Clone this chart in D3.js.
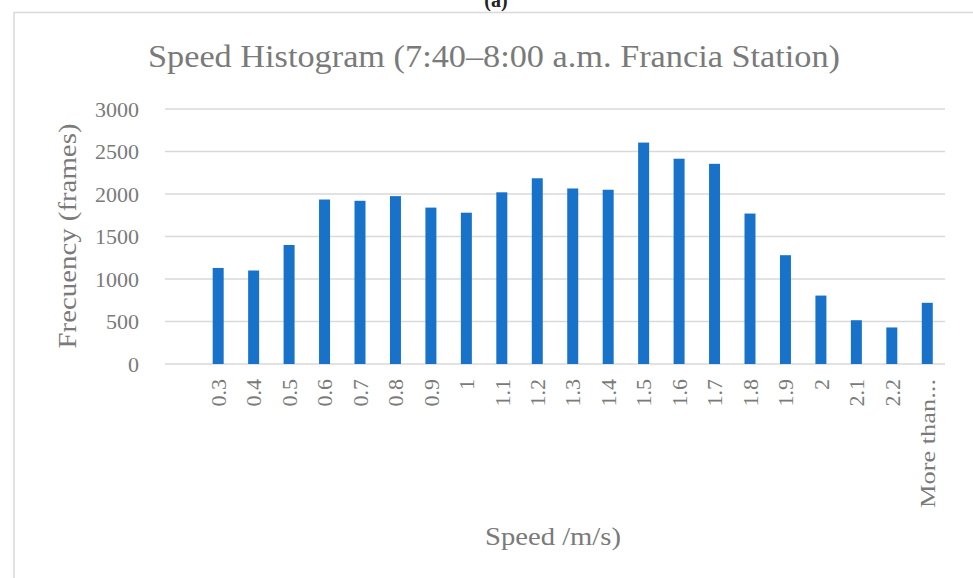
<!DOCTYPE html>
<meta charset="utf-8">
<style>
  body { margin: 0; background: #fff; }
  text { font-family: "Liberation Serif", "DejaVu Serif", serif; fill: #7a7a7a; }
</style>
<body>
  <script src="https://d3js.org/d3.v7.min.js"></script>
  <script>

   // chart data
   const speeds = ["0.3", "0.4", "0.5", "0.6", "0.7", "0.8", "0.9", "1", "1.1", "1.2", "1.3",
                   "1.4", "1.5", "1.6", "1.7", "1.8", "1.9", "2", "2.1", "2.2", "More than..."];
   const frequency = [1130, 1100, 1400, 1935, 1920, 1975, 1840, 1780, 2020, 2185, 2065,
                      2050, 2605, 2415, 2355, 1770, 1280, 805, 515, 430, 720];
   const yTicks = [0, 500, 1000, 1500, 2000, 2500, 3000];

   const W = 973, H = 578;
   // plot area (the gridlines run across it; first slot is left empty)
   const plot = {left: 165, right: 945, top: 109, bottom: 364};
   const slot = (plot.right - plot.left) / (speeds.length + 1);

   const svg = d3.select("body").append("svg")
       .attr("width", W)
       .attr("height", H);

   // "(a)" caption cut off at the top
   svg.append("text")
      .attr("x", 496).attr("y", 7)
      .attr("text-anchor", "middle")
      .style("font-size", "20px")
      .style("font-weight", "bold")
      .style("fill", "#222")
      .text("(a)");

   // chart frame
   svg.append("rect")
      .attr("x", 14).attr("y", 12.5)
      .attr("width", W).attr("height", H)
      .attr("fill", "none")
      .attr("stroke", "#d9d9d9")
      .attr("stroke-width", 1.5);

   const x = d3.scaleBand()
       .domain(speeds)
       .range([plot.left + slot, plot.right])
       .paddingInner(0.69)
       .paddingOuter(0.345);

   const y = d3.scaleLinear()
       .domain([0, 3000])
       .range([plot.bottom, plot.top]);

   // gridlines
   svg.append("g")
      .selectAll("line")
      .data(yTicks)
      .join("line")
      .attr("x1", plot.left).attr("x2", plot.right)
      .attr("y1", d => y(d)).attr("y2", d => y(d))
      .attr("stroke", "#d9d9d9")
      .attr("stroke-width", 1.5);

   // y tick labels
   svg.append("g")
      .selectAll("text")
      .data(yTicks)
      .join("text")
      .attr("x", 139)
      .attr("y", d => y(d))
      .attr("dy", "0.35em")
      .attr("text-anchor", "end")
      .style("font-size", "22px")
      .text(d => d);

   // bars
   svg.append("g")
      .selectAll("rect")
      .data(frequency)
      .join("rect")
      .attr("x", (d, i) => x(speeds[i]))
      .attr("y", d => y(d))
      .attr("width", x.bandwidth())
      .attr("height", d => y(0) - y(d))
      .attr("fill", "#1872c9");

   // x tick labels, rotated
   svg.append("g")
      .selectAll("text")
      .data(speeds)
      .join("text")
      .attr("transform", d => "translate(" + (x(d) + x.bandwidth() / 2) + ",379) rotate(-90)")
      .attr("dy", "0.35em")
      .attr("text-anchor", "end")
      .attr("textLength", d => d.length > 4 ? 129 : null)
      .attr("lengthAdjust", "spacingAndGlyphs")
      .style("font-size", "22px")
      .text(d => d);

   // title
   svg.append("text")
      .attr("x", 494).attr("y", 67)
      .attr("text-anchor", "middle")
      .attr("textLength", 692)
      .attr("lengthAdjust", "spacingAndGlyphs")
      .style("font-size", "31px")
      .text("Speed Histogram (7:40\u20138:00 a.m. Francia Station)");

   // axis titles
   svg.append("text")
      .attr("transform", "translate(76,236) rotate(-90)")
      .attr("text-anchor", "middle")
      .attr("textLength", 225)
      .attr("lengthAdjust", "spacingAndGlyphs")
      .style("font-size", "25px")
      .text("Frecuency (frames)");

   svg.append("text")
      .attr("x", 553).attr("y", 545)
      .attr("text-anchor", "middle")
      .attr("textLength", 136)
      .attr("lengthAdjust", "spacingAndGlyphs")
      .style("font-size", "25px")
      .text("Speed /m/s)");

  </script>
</body>
